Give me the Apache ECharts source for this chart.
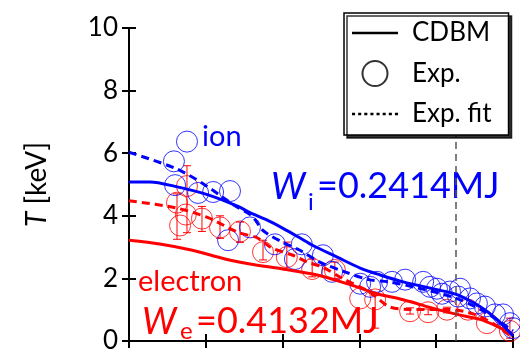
<!DOCTYPE html>
<html>
<head>
<meta charset="utf-8">
<script src="https://cdn.jsdelivr.net/npm/echarts@6/dist/echarts.min.js"></script>
<style>
  html, body { margin: 0; padding: 0; background: #fff; }
  #chart { width: 520px; height: 354px; }
</style>
</head>
<body>
<div id="chart"></div>
<script>
// rho (normalised radius) vs temperature [keV]
const yTicks = [0, 2, 4, 6, 8, 10];
const boundaryRho = 0.846;

const ionCdbm = [[0,5.08],[0.055,5.08],[0.12,4.94],[0.206,4.67],[0.284,4.3],[0.315,4.1],[0.36,3.86],[0.401,3.6],[0.44,3.33],[0.479,3.05],[0.542,2.68],[0.602,2.33],[0.654,2.11],[0.714,1.89],[0.802,1.64],[0.854,1.48],[0.914,1.1],[0.958,0.69],[1.0,0.16]];
const ionFit = [[0,6.03],[0.12,5.52],[0.19,5.05],[0.276,4.32],[0.32,4.0],[0.349,3.53],[0.401,3.15],[0.445,2.9],[0.497,2.52],[0.562,2.21],[0.625,1.96],[0.677,1.89],[0.75,1.7],[0.844,1.4],[0.92,0.98],[1.0,0.32]];
const elecCdbm = [[0,3.22],[0.08,3.1],[0.165,2.9],[0.25,2.62],[0.315,2.46],[0.401,2.3],[0.49,2.11],[0.576,1.8],[0.646,1.51],[0.714,1.32],[0.802,1.01],[0.854,0.85],[0.914,0.69],[0.958,0.47],[1.0,0.22]];
const elecFit = [[0,4.48],[0.12,4.26],[0.206,3.94],[0.284,3.47],[0.333,3.3],[0.372,2.97],[0.427,2.74],[0.464,2.52],[0.503,2.37],[0.557,1.99],[0.625,1.58],[0.677,1.1],[0.73,1.01],[0.83,1.01],[0.9,0.85],[0.96,0.47],[1.0,0.1]];

const ionExp = [[0.151,6.37],[0.117,5.74],[0.12,4.98],[0.18,4.73],[0.219,4.76],[0.263,4.79],[0.315,3.63],[0.258,3.22],[0.38,3.09],[0.45,3.09],[0.432,2.62],[0.505,2.74],[0.529,2.21],[0.602,1.83],[0.628,1.73],[0.646,1.89],[0.685,1.89],[0.719,1.96],[0.766,1.89],[0.784,1.73],[0.802,1.67],[0.815,1.51],[0.836,1.58],[0.862,1.67],[0.857,1.42],[0.888,1.36],[0.906,1.2],[0.927,1.1],[0.953,0.85],[0.974,0.85],[0.992,0.57],[1.0,0.41]];
const elecExp = [[0.125,4.42],[0.151,4.95],[0.148,4.04],[0.133,3.69],[0.19,3.91],[0.237,3.63],[0.289,3.5],[0.349,2.84],[0.411,2.68],[0.477,2.3],[0.536,2.27],[0.602,1.36],[0.641,1.33],[0.732,0.95],[0.779,0.92],[0.828,1.0],[0.883,1.0],[0.932,0.57],[0.992,0.32]];
// error bars: [rho, low, high]
const elecErr = [[0.125,3.25,4.7],[0.151,3.46,5.6],[0.19,3.5,4.3],[0.237,3.28,4.0],[0.289,3.15,3.8],[0.349,2.59,3.22],[0.411,2.27,3.16],[0.477,2.05,2.62],[0.536,2.0,2.52],[0.641,0.41,1.45],[0.732,0.86,1.06],[0.779,0.84,1.02],[0.828,0.9,1.08],[0.992,0.09,0.73]];

const BLUE = '#0000ff';
const RED = '#ff0000';
const FONT = 'Lato';

// legend icons
const solidIcon = 'path://M0,0h46v2.5h-46z';
let dotted = '';
for (let i = 0; i < 8; i++) dotted += 'M' + (i * 6) + ',0h3v2.5h-3z';
const dottedIcon = 'path://' + dotted;

const chart = echarts.init(document.getElementById('chart'));

function errBar(params, api) {
    const x = api.value(0);
    const lo = api.coord([x, api.value(1)]);
    const hi = api.coord([x, api.value(2)]);
    const w = 4;
    const st = { stroke: RED, lineWidth: 1 };
    return {
        type: 'group',
        children: [
            { type: 'line', shape: { x1: lo[0], y1: lo[1], x2: hi[0], y2: hi[1] }, style: st },
            { type: 'line', shape: { x1: lo[0] - w, y1: lo[1], x2: lo[0] + w, y2: lo[1] }, style: st },
            { type: 'line', shape: { x1: hi[0] - w, y1: hi[1], x2: hi[0] + w, y2: hi[1] }, style: st }
        ]
    };
}

const axisLine = { show: true, lineStyle: { color: '#000', width: 2 } };
const axisTick = { show: true, inside: true, length: 7, lineStyle: { color: '#000', width: 2 } };

chart.setOption({
    animation: false,
    grid: { left: 129, right: 7, top: 28, bottom: 9 },
    xAxis: [
        { type: 'value', min: 0, max: 1, interval: 0.2, axisLine, axisTick, axisLabel: { show: false }, splitLine: { show: false } },
        { type: 'value', position: 'top', min: 0, max: 1, interval: 0.2, axisLine, axisTick, axisLabel: { show: false }, splitLine: { show: false } }
    ],
    yAxis: [
        {
            type: 'value', min: yTicks[0], max: yTicks[yTicks.length - 1], interval: 2,
            axisLine, axisTick, splitLine: { show: false },
            axisLabel: { color: '#000', fontSize: 26, fontFamily: FONT, margin: 11 },
            name: '{i|T} [keV]', nameLocation: 'middle', nameGap: 78,
            nameTextStyle: {
                color: '#000', fontSize: 28, fontFamily: FONT,
                rich: { i: { fontStyle: 'italic', fontSize: 28, fontFamily: FONT, color: '#000' } }
            }
        },
        {
            type: 'value', position: 'right', min: 0, max: 10, interval: 2,
            axisLine, axisTick, axisLabel: { show: false }, splitLine: { show: false }
        }
    ],
    legend: {
        data: [
            { name: 'CDBM', icon: solidIcon },
            { name: 'Exp.', icon: 'emptyCircle' },
            { name: 'Exp. fit', icon: dottedIcon }
        ],
        orient: 'vertical',
        left: 344, top: 13, z: 20,
        itemWidth: 46, itemHeight: 25, itemGap: 14,
        padding: [7, 17, 8, 8],
        backgroundColor: '#fff',
        borderColor: '#000', borderWidth: 1.5, borderRadius: 0,
        shadowColor: 'rgba(0,0,0,0.8)', shadowOffsetX: 3, shadowOffsetY: 3, shadowBlur: 0,
        textStyle: { color: '#000', fontSize: 26, fontFamily: FONT, padding: [0, 0, 0, 9] }
    },
    graphic: [
        { type: 'text', x: 202, y: 137, style: { text: 'ion', fontSize: 29, fontFamily: FONT, fill: BLUE, verticalAlign: 'middle' } },
        { type: 'text', x: 138, y: 282, style: { text: 'electron', fontSize: 29, fontFamily: FONT, fill: RED, verticalAlign: 'middle' } },
        { type: 'text', x: 271, y: 187, style: { text: 'W', fontSize: 36, fontStyle: 'italic', fontFamily: FONT, fill: BLUE, verticalAlign: 'middle' } },
        { type: 'text', x: 308, y: 202, style: { text: 'i', fontSize: 24, fontFamily: FONT, fill: BLUE, verticalAlign: 'middle' } },
        { type: 'text', x: 317, y: 186, style: { text: '=0.2414MJ', fontSize: 36, fontFamily: FONT, fill: BLUE, verticalAlign: 'middle' } },
        { type: 'text', x: 142, y: 322, style: { text: 'W', fontSize: 36, fontStyle: 'italic', fontFamily: FONT, fill: RED, verticalAlign: 'middle' } },
        { type: 'text', x: 180, y: 331, style: { text: 'e', fontSize: 24, fontFamily: FONT, fill: RED, verticalAlign: 'middle' } },
        { type: 'text', x: 196, y: 321, style: { text: '=0.4132MJ', fontSize: 36, fontFamily: FONT, fill: RED, verticalAlign: 'middle' } }
    ],
    series: [
        // legend-only entries
        { name: 'CDBM', type: 'line', data: [], symbol: 'none', lineStyle: { color: '#000', width: 2 }, itemStyle: { color: '#000' } },
        { name: 'Exp.', type: 'scatter', data: [], symbol: 'emptyCircle', itemStyle: { color: '#000' } },
        { name: 'Exp. fit', type: 'line', data: [], symbol: 'none', lineStyle: { color: '#000', width: 2, type: 'dotted' }, itemStyle: { color: '#000' } },

        {
            name: 'elecErr', type: 'custom', data: elecErr, renderItem: errBar,
            encode: { x: 0, y: [1, 2] }, z: 3
        },
        {
            name: 'elecExp', type: 'scatter', data: elecExp, symbol: 'circle', symbolSize: 21,
            itemStyle: { color: 'rgba(0,0,0,0)', borderColor: RED, borderWidth: 1 }, z: 3
        },
        {
            name: 'ionExp', type: 'scatter', data: ionExp, symbol: 'circle', symbolSize: 21,
            itemStyle: { color: 'rgba(0,0,0,0)', borderColor: BLUE, borderWidth: 1 }, z: 3
        },
        {
            name: 'elecFit', type: 'line', data: elecFit, symbol: 'none', smooth: 0.3,
            lineStyle: { color: RED, width: 3, type: [8, 5] }, z: 4
        },
        {
            name: 'elecCdbm', type: 'line', data: elecCdbm, symbol: 'none', smooth: 0.3,
            lineStyle: { color: RED, width: 3 }, z: 4
        },
        {
            name: 'ionFit', type: 'line', data: ionFit, symbol: 'none', smooth: 0.3,
            lineStyle: { color: BLUE, width: 3, type: [8, 5] }, z: 5
        },
        {
            name: 'ionCdbm', type: 'line', data: ionCdbm, symbol: 'none', smooth: 0.3,
            lineStyle: { color: BLUE, width: 3 }, z: 5,
            markLine: {
                silent: true, symbol: 'none', label: { show: false },
                lineStyle: { color: '#555', width: 1.5, type: [7, 5] },
                data: [{ xAxis: boundaryRho }]
            }
        }
    ]
});
</script>
</body>
</html>
